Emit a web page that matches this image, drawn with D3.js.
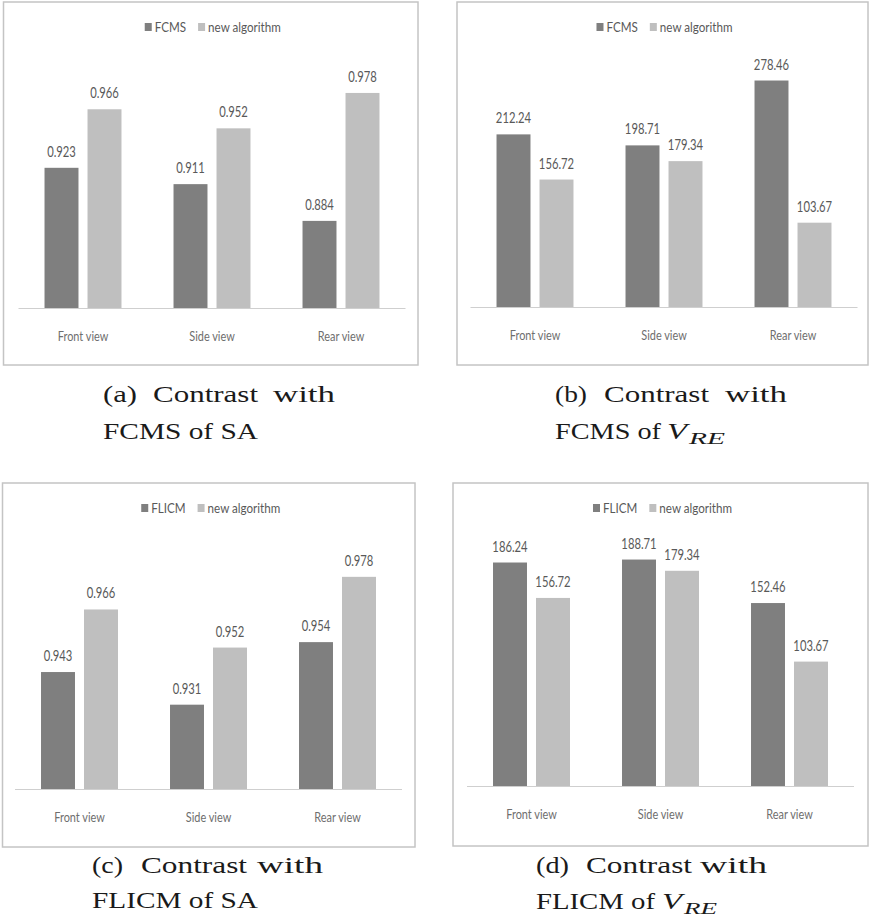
<!DOCTYPE html>
<html>
<head>
<meta charset="utf-8">
<script src="https://cdn.jsdelivr.net/npm/d3@7"></script>
<style>
  body { margin: 0; background: #ffffff; }
  svg { display: block; }
</style>
</head>
<body>
<svg id="fig" width="869" height="922"></svg>
<script>
// ---- data ----
const categories = ["Front view", "Side view", "Rear view"];

const fcmsSA      = [0.923, 0.911, 0.884];
const newAlgSA1   = [0.966, 0.952, 0.978];

const fcmsVRE     = [212.24, 198.71, 278.46];
const newAlgVRE1  = [156.72, 179.34, 103.67];

const flicmSA     = [0.943, 0.931, 0.954];
const newAlgSA2   = [0.966, 0.952, 0.978];

const flicmVRE    = [186.24, 188.71, 152.46];
const newAlgVRE2  = [156.72, 179.34, 103.67];

const domainSA1  = [0.82, 1.0];
const domainVRE1 = [0, 300];
const domainSA2  = [0.90, 1.0];
const domainVRE2 = [0, 200];

// ---- styling ----
const DARK = "#7f7f7f", LIGHT = "#bfbfbf";
const SANS = "Lato, 'Open Sans', sans-serif";
const SERIF = "'Liberation Serif', 'DejaVu Serif', serif";

const svg = d3.select("#fig");

// one sub-figure per entry
const panels = [
  {
    box: [3.5, 2, 418, 365], xr: [18.5, 405.5], yr: [308, 63],
    names: ["FCMS", "new algorithm"], series: [fcmsSA, newAlgSA1],
    domain: domainSA1, fmt: d3.format(".3f"),
    cap: { y1: 402, y2: 439,
      words: [["(a)", 103, 34], ["Contrast", 153, 105], ["with", 273, 62]],
      line2: [["FCMS of SA", 103, 155]] }
  },
  {
    box: [457, 2, 868, 365], xr: [470.5, 857.5], yr: [307, 63],
    names: ["FCMS", "new algorithm"], series: [fcmsVRE, newAlgVRE1],
    domain: domainVRE1, fmt: d3.format(".2f"),
    cap: { y1: 402, y2: 439,
      words: [["(b)", 555, 32], ["Contrast", 604, 105], ["with", 725, 62]],
      line2: [["FCMS of", 555, 106]], sub: { vx: 667, vw: 20, rx: 689, rw: 36 } }
  },
  {
    box: [2.5, 483, 415, 847], xr: [15, 402], yr: [789, 517],
    names: ["FLICM", "new algorithm"], series: [flicmSA, newAlgSA2],
    domain: domainSA2, fmt: d3.format(".3f"),
    cap: { y1: 873, y2: 908,
      words: [["(c)", 92, 31], ["Contrast", 141, 106], ["with", 257, 66]],
      line2: [["FLICM of SA", 92, 166]] }
  },
  {
    box: [453, 483, 868, 846], xr: [467, 854], yr: [786, 546],
    names: ["FLICM", "new algorithm"], series: [flicmVRE, newAlgVRE2],
    domain: domainVRE2, fmt: d3.format(".2f"),
    cap: { y1: 873, y2: 909,
      words: [["(d)", 536, 33], ["Contrast", 586, 106], ["with", 700, 67]],
      line2: [["FLICM of", 536, 119]], sub: { vx: 662, vw: 20, rx: 684, rw: 33 } }
  }
];

// condensed sans text: scale horizontally around the anchor point
function sansText(g, x, y, str, size, sx, anchor, fill) {
  return g.append("text")
    .attr("transform", `translate(${x},${y}) scale(${sx},1)`)
    .attr("text-anchor", anchor)
    .attr("font-family", SANS)
    .attr("font-size", size)
    .attr("fill", fill)
    .text(str);
}

function serifText(x, y, str, size, len, italic) {
  const t = svg.append("text").attr("x", x).attr("y", y)
    .attr("font-family", SERIF).attr("font-size", size).attr("fill", "#1a1a1a")
    .attr("font-style", italic ? "italic" : "normal")
    .text(str);
  if (len) t.attr("textLength", len).attr("lengthAdjust", "spacingAndGlyphs");
  return t;
}

panels.forEach(p => {
  const g = svg.append("g");
  const [bx0, by0, bx1, by1] = p.box;

  // chart frame
  g.append("rect")
    .attr("x", bx0).attr("y", by0)
    .attr("width", bx1 - bx0).attr("height", by1 - by0)
    .attr("fill", "#ffffff")
    .attr("stroke", "#c4c4c4").attr("stroke-width", 1.5);

  const x0 = d3.scaleBand().domain(categories).range(p.xr).padding(0);
  const x1 = d3.scaleBand().domain([0, 1]).range([0, x0.bandwidth()])
    .paddingInner(0.21).paddingOuter(0.605);
  const y = d3.scaleLinear().domain(p.domain).range(p.yr);

  const rows = [];
  categories.forEach((c, i) => {
    p.series.forEach((s, k) => rows.push({ c, k, v: s[i] }));
  });

  // bars
  g.selectAll("rect.bar").data(rows).enter().append("rect")
    .attr("class", "bar")
    .attr("x", d => x0(d.c) + x1(d.k))
    .attr("y", d => y(d.v))
    .attr("width", x1.bandwidth())
    .attr("height", d => y(p.domain[0]) - y(d.v))
    .attr("fill", d => d.k === 0 ? DARK : LIGHT);

  // value labels
  rows.forEach(d => {
    sansText(g, x0(d.c) + x1(d.k) + x1.bandwidth() / 2, y(d.v) - 11,
      p.fmt(d.v), 15, 0.75, "middle", "#595959");
  });

  // category axis
  const base = y(p.domain[0]);
  g.append("line")
    .attr("x1", p.xr[0]).attr("x2", p.xr[1])
    .attr("y1", base + 0.5).attr("y2", base + 0.5)
    .attr("stroke", "#cfcfcf").attr("stroke-width", 1);
  categories.forEach(c => {
    sansText(g, x0(c) + x0.bandwidth() / 2, base + 33, c, 14, 0.78, "middle", "#6e6e6e");
  });

  // legend, centred over the frame
  const lg = g.append("g");
  const ly = by0 + 25;
  let cx = 0;
  const items = [];
  p.names.forEach((n, k) => {
    const sq = lg.append("rect").attr("width", 7).attr("height", 8)
      .attr("y", ly - 4).attr("fill", k === 0 ? DARK : LIGHT);
    const t = sansText(lg, 0, ly + 5, n, 14, 0.83, "start", "#595959");
    const w = t.node().getComputedTextLength() * 0.83;
    items.push({ sq, t, x: cx });
    cx += 7 + 3 + w + (k === 0 ? 12 : 0);
  });
  const start = (bx0 + bx1) / 2 + 2 - cx / 2;
  items.forEach(it => {
    it.sq.attr("x", start + it.x);
    it.t.attr("transform", `translate(${start + it.x + 10},${ly + 5}) scale(0.83,1)`);
  });

  // caption below the frame
  const cap = p.cap;
  cap.words.forEach(([w, x, len]) => serifText(x, cap.y1, w, 24, len, false));
  cap.line2.forEach(([w, x, len]) => serifText(x, cap.y2, w, 24, len, false));
  if (cap.sub) {
    serifText(cap.sub.vx, cap.y2, "V", 24, cap.sub.vw, true);
    serifText(cap.sub.rx, cap.y2 + 5, "RE", 17, cap.sub.rw, true);
  }
});
</script>
</body>
</html>
